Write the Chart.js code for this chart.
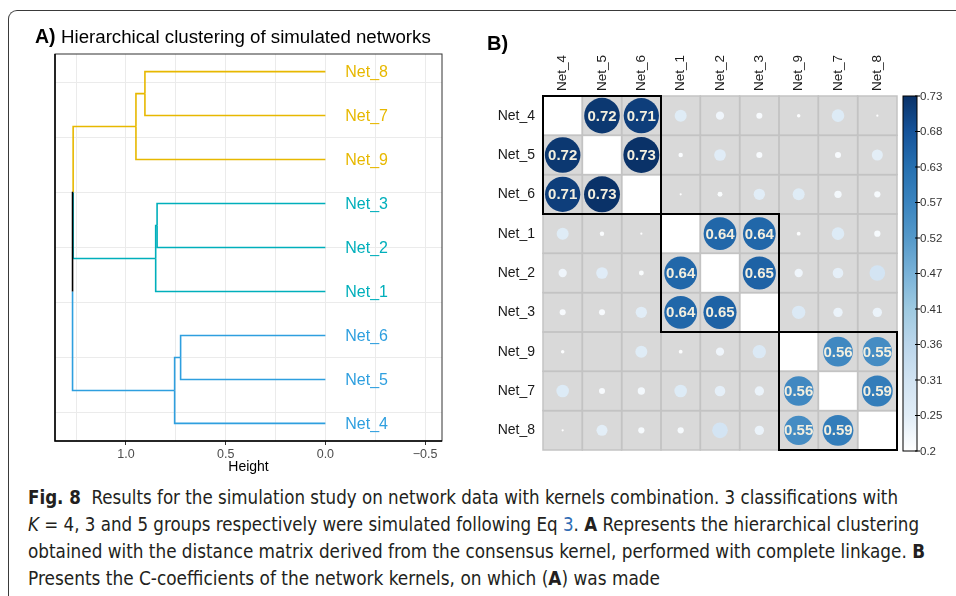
<!DOCTYPE html>
<html>
<head>
<meta charset="utf-8">
<script src="https://cdn.jsdelivr.net/npm/chart.js@4.4.1/dist/chart.umd.min.js"></script>
<style>
  html, body { margin: 0; padding: 0; background: #fff; }
  body { width: 956px; height: 596px; position: relative; overflow: hidden; }
  #frame { position: absolute; left: 8px; top: 10px; width: 1000px; height: 620px;
           border-top: 1px solid #3a3a3a; border-left: 1px solid #3a3a3a; border-top-left-radius: 9px; }
  #chartA { position: absolute; left: 0; top: 0; }
  #chartB { position: absolute; left: 470px; top: 0; }
  #caption { position: absolute; left: 28px; top: 484px; font-family: "Liberation Sans Narrow", "DejaVu Sans Condensed", sans-serif;
             font-size: 19.5px; line-height: 27px; color: #231f20; white-space: nowrap; }
  #caption div { transform-origin: left center; }
  #caption .lnk { color: #2f6db5; }
</style>
</head>
<body>
<div id="frame"></div>
<canvas id="chartA" width="470" height="480"></canvas>
<canvas id="chartB" width="486" height="480"></canvas>
<div id="caption">
  <div data-w="870"><b>Fig. 8</b>&nbsp; Results for the simulation study on network data with kernels combination. 3 classifications with</div>
  <div data-w="891"><i>K</i> = 4, 3 and 5 groups respectively were simulated following Eq <span class="lnk">3</span>. <b>A</b> Represents the hierarchical clustering</div>
  <div data-w="897">obtained with the distance matrix derived from the consensus kernel, performed with complete linkage. <b>B</b></div>
  <div data-w="632">Presents the C-coefficients of the network kernels, on which (<b>A</b>) was made</div>
</div>
<script>
// leaves, bottom to top in the dendrogram, same order as the matrix rows
var leaves = ['Net_4', 'Net_5', 'Net_6', 'Net_1', 'Net_2', 'Net_3', 'Net_9', 'Net_7', 'Net_8'];
var groups = [0, 0, 0, 1, 1, 1, 2, 2, 2];
var groupColors = ['#2E9FDF', '#00AFBB', '#E7B800'];

// merges of the complete linkage tree (m1..m8)
var mergeLeft   = ['Net_5', 'Net_4', 'Net_2', 'Net_1', 'Net_7', 'Net_9', 'm4', 'm2'];
var mergeRight  = ['Net_6', 'm1',    'Net_3', 'm3',    'Net_8', 'm5',    'm6', 'm7'];
var mergeHeight = [0.726,   0.756,   0.844,   0.851,   0.905,   0.950,   1.265, 1.268];

var heightGrid = [1.25, 1.0, 0.75, 0.5, 0.25, 0.0, -0.25, -0.5];
var heightMajor = [1.0, 0.5, 0.0, -0.5];
var heightLabels = ['1.0', '0.5', '0.0', '\u22120.5'];
var leafGrid = [1.25, 2.5, 3.75, 5, 6.25, 7.5, 8.75];

// C-coefficients, rows/cols in leaves order
var kernelC = [
  [null, 0.72, 0.71, 0.259, 0.228, 0.215, 0.205, 0.265, 0.202],
  [0.72, null, 0.73, 0.208, 0.256, 0.215, 0.200, 0.215, 0.250],
  [0.71, 0.73, null, 0.202, 0.210, 0.253, 0.259, 0.222, 0.216],
  [0.259, 0.208, 0.202, null, 0.64, 0.64, 0.206, 0.265, 0.216],
  [0.228, 0.256, 0.210, 0.64, null, 0.65, 0.228, 0.246, 0.300],
  [0.215, 0.215, 0.253, 0.64, 0.65, null, 0.273, 0.236, 0.236],
  [0.205, 0.200, 0.259, 0.206, 0.228, 0.273, null, 0.56, 0.55],
  [0.265, 0.215, 0.222, 0.265, 0.246, 0.236, 0.56, null, 0.59],
  [0.202, 0.250, 0.216, 0.216, 0.300, 0.236, 0.55, 0.59, null]
];
var colorLim = [0.2, 0.73];
var colorbarLabels = ['0.73', '0.68', '0.63', '0.57', '0.52', '0.47', '0.41', '0.36', '0.31', '0.25', '0.2'];
var blues = ['#FFFFFF', '#E1EDF7', '#D1E3F2', '#BBD6EB', '#9ECAE1', '#79B2D8', '#5599C9', '#3A84BF', '#2670B0', '#15539A', '#0A3268'];

var FONT = "'Liberation Sans', Arial, Helvetica, sans-serif";

// ---------- panel A : dendrogram ----------
var nodes = {};
leaves.forEach(function (n, i) { nodes[n] = { y: i + 1, h: 0, grp: groups[i] }; });
var edges = [];
mergeLeft.forEach(function (a, k) {
  var A = nodes[a], B = nodes[mergeRight[k]];
  var h = mergeHeight[k];
  var node = { y: (A.y + B.y) / 2, h: h, grp: A.grp === B.grp ? A.grp : -1 };
  [A, B].forEach(function (c) {
    edges.push({ grp: c.grp, pts: [{ x: h, y: node.y }, { x: h, y: c.y }, { x: c.h, y: c.y }] });
  });
  nodes['m' + (k + 1)] = node;
});
// black (mixed) branches underneath the coloured ones
edges.sort(function (a, b) { return (a.grp < 0 ? 0 : 1) - (b.grp < 0 ? 0 : 1); });

var dendroSets = edges.map(function (e) {
  return {
    data: e.pts, showLine: true, pointRadius: 0, borderWidth: 1.6, tension: 0,
    borderColor: e.grp < 0 ? '#000000' : groupColors[e.grp]
  };
});

var panelAText = {
  id: 'panelAText',
  afterDatasetsDraw: function (chart) {
    var ctx = chart.ctx, ca = chart.chartArea, xs = chart.scales.x, ys = chart.scales.y;
    ctx.save();
    // frame
    ctx.strokeStyle = '#333';
    ctx.lineWidth = 1;
    ctx.strokeRect(ca.left, ca.top, ca.right - ca.left, ca.bottom - ca.top);
    ctx.strokeStyle = '#000';
    ctx.lineWidth = 1.5;
    ctx.beginPath();
    ctx.moveTo(ca.left, ca.top); ctx.lineTo(ca.left, ca.bottom); ctx.lineTo(ca.right, ca.bottom);
    ctx.stroke();
    // leaf labels
    ctx.font = '16px ' + FONT;
    ctx.textAlign = 'left';
    ctx.textBaseline = 'middle';
    leaves.forEach(function (n, i) {
      ctx.fillStyle = groupColors[groups[i]];
      ctx.fillText(n, xs.getPixelForValue(-0.1), ys.getPixelForValue(i + 1) + 1);
    });
    // title
    ctx.fillStyle = '#000';
    ctx.font = 'bold 19.5px ' + FONT;
    ctx.fillText('A)', 35, 38);
    var w = ctx.measureText('A) ').width;
    ctx.font = '18.7px ' + FONT;
    ctx.fillText('Hierarchical clustering of simulated networks', 35 + w, 38);
    // axis title
    ctx.textAlign = 'center';
    ctx.font = '14px ' + FONT;
    ctx.fillText('Height', (ca.left + ca.right) / 2, 467);
    ctx.restore();
  }
};

new Chart(document.getElementById('chartA'), {
  type: 'scatter',
  data: { datasets: dendroSets },
  options: {
    responsive: false, animation: false, events: [],
    layout: { padding: { top: 54, right: 28, left: 0, bottom: 0 } },
    plugins: { legend: { display: false }, tooltip: { enabled: false } },
    scales: {
      x: {
        type: 'linear', reverse: true, min: -0.585, max: 1.356,
        afterBuildTicks: function (s) { s.ticks = heightGrid.map(function (v) { return { value: v }; }); },
        afterFit: function (s) { s.height = 39; },
        ticks: {
          autoSkip: false, maxRotation: 0, padding: 2, color: '#4D4D4D',
          font: { size: 12.5, family: FONT },
          callback: function (v) { var i = heightMajor.indexOf(v); return i >= 0 ? heightLabels[i] : ''; }
        },
        grid: {
          color: '#EBEBEB', lineWidth: 1, tickLength: 4,
          tickColor: function (c) { return c.tick && heightMajor.indexOf(c.tick.value) >= 0 ? '#333' : 'rgba(0,0,0,0)'; }
        },
        border: { display: false }
      },
      y: {
        type: 'linear', min: 0.6, max: 9.4,
        afterBuildTicks: function (s) { s.ticks = leafGrid.map(function (v) { return { value: v }; }); },
        afterFit: function (s) { s.width = 55; },
        ticks: { display: false },
        grid: { color: '#EBEBEB', drawTicks: false },
        border: { display: false }
      }
    }
  },
  plugins: [panelAText]
});

// ---------- panel B : C-coefficient matrix ----------
var padB = { top: 0, right: 59, left: 0, bottom: 30 };
var axisB = { top: 96, left: 73 };

function hexRgb(h) { return [parseInt(h.substr(1, 2), 16), parseInt(h.substr(3, 2), 16), parseInt(h.substr(5, 2), 16)]; }
function colorOf(v) {
  var t = Math.max(0, Math.min(1, (v - colorLim[0]) / (colorLim[1] - colorLim[0])));
  var p = t * (blues.length - 1), i = Math.min(Math.floor(p), blues.length - 2), f = p - i;
  var a = hexRgb(blues[i]), b = hexRgb(blues[i + 1]);
  return 'rgb(' + [0, 1, 2].map(function (k) { return Math.round(a[k] + (b[k] - a[k]) * f); }).join(',') + ')';
}

var cells = [];
kernelC.forEach(function (row, i) {
  row.forEach(function (v, j) { if (v !== null) cells.push({ x: j + 0.5, y: i + 0.5, v: v }); });
});
var centers = leaves.map(function (n, i) { return i + 0.5; });

var panelBDraw = {
  id: 'panelBDraw',
  beforeDatasetsDraw: function (chart) {
    var ctx = chart.ctx, xs = chart.scales.x, ys = chart.scales.y;
    ctx.save();
    for (var i = 0; i < leaves.length; i++) {
      for (var j = 0; j < leaves.length; j++) {
        var x0 = xs.getPixelForValue(j), x1 = xs.getPixelForValue(j + 1);
        var y0 = ys.getPixelForValue(i), y1 = ys.getPixelForValue(i + 1);
        ctx.fillStyle = i === j ? '#FFFFFF' : '#D9D9D9';
        ctx.fillRect(x0, y0, x1 - x0, y1 - y0);
      }
    }
    ctx.strokeStyle = '#C3C3C3';
    ctx.lineWidth = 1.5;
    for (var i2 = 0; i2 < leaves.length; i2++) {
      for (var j2 = 0; j2 < leaves.length; j2++) {
        var a0 = xs.getPixelForValue(j2), a1 = xs.getPixelForValue(j2 + 1);
        var b0 = ys.getPixelForValue(i2), b1 = ys.getPixelForValue(i2 + 1);
        ctx.strokeRect(a0, b0, a1 - a0, b1 - b0);
      }
    }
    ctx.restore();
  },
  afterDatasetsDraw: function (chart) {
    var ctx = chart.ctx, ca = chart.chartArea, xs = chart.scales.x, ys = chart.scales.y;
    ctx.save();
    // values inside the clusters
    ctx.fillStyle = '#F3EFDF';
    ctx.font = 'bold 15px ' + FONT;
    ctx.textAlign = 'center';
    ctx.textBaseline = 'middle';
    kernelC.forEach(function (row, i) {
      row.forEach(function (v, j) {
        if (v !== null && groups[i] === groups[j]) {
          ctx.fillText(v.toFixed(2), xs.getPixelForValue(j + 0.5), ys.getPixelForValue(i + 0.5) + 1);
        }
      });
    });
    // cluster boxes
    ctx.strokeStyle = '#000';
    ctx.lineWidth = 2;
    var start = 0;
    for (var k = 1; k <= groups.length; k++) {
      if (k === groups.length || groups[k] !== groups[start]) {
        var x0 = xs.getPixelForValue(start), x1 = xs.getPixelForValue(k);
        var y0 = ys.getPixelForValue(start), y1 = ys.getPixelForValue(k);
        ctx.strokeRect(x0, y0, x1 - x0, y1 - y0);
        start = k;
      }
    }
    // colour bar
    var bx = ca.right + 6, bw = 14, by0 = ca.top, by1 = ca.bottom + 1;
    var g = ctx.createLinearGradient(0, by1, 0, by0);
    blues.forEach(function (c, i) { g.addColorStop(i / (blues.length - 1), c); });
    ctx.fillStyle = g;
    ctx.fillRect(bx, by0, bw, by1 - by0);
    ctx.strokeStyle = '#000';
    ctx.lineWidth = 1;
    ctx.strokeRect(bx, by0, bw, by1 - by0);
    ctx.font = '11.5px ' + FONT;
    ctx.textAlign = 'left';
    ctx.fillStyle = '#333';
    colorbarLabels.forEach(function (lab, i) {
      var y = by0 + (by1 - by0) * i / (colorbarLabels.length - 1);
      ctx.beginPath();
      ctx.moveTo(bx + bw - 2, y); ctx.lineTo(bx + bw + 3, y);
      ctx.stroke();
      ctx.fillText(lab, bx + bw + 3, y + 0.5);
    });
    // panel tag
    ctx.fillStyle = '#000';
    ctx.font = 'bold 20px ' + FONT;
    ctx.fillText('B)', 17, 44);
    ctx.restore();
  }
};

new Chart(document.getElementById('chartB'), {
  type: 'bubble',
  data: {
    datasets: [{
      data: cells,
      borderWidth: 0,
      backgroundColor: function (c) { return c.raw ? colorOf(c.raw.v) : '#fff'; },
      // radius is resolved while parsing, before the layout exists, so the cell
      // size comes from the canvas size and the fixed axis/padding sizes
      radius: function (c) {
        if (!c.raw) return 0;
        var cell = (c.chart.width - axisB.left - padB.left - padB.right) / leaves.length;
        var t = Math.max(0, (c.raw.v - colorLim[0]) / (colorLim[1] - colorLim[0]));
        return 0.457 * cell * Math.sqrt(t);
      }
    }]
  },
  options: {
    responsive: false, animation: false, events: [],
    layout: { padding: padB },
    plugins: { legend: { display: false }, tooltip: { enabled: false } },
    scales: {
      x: {
        type: 'linear', position: 'top', min: 0, max: leaves.length,
        afterBuildTicks: function (s) { s.ticks = centers.map(function (v) { return { value: v }; }); },
        afterFit: function (s) { s.height = axisB.top; },
        ticks: {
          autoSkip: false, minRotation: 90, maxRotation: 90, padding: 5, labelOffset: 16, color: '#1A1A1A',
          font: { size: 13.5, family: FONT },
          callback: function (v) { return leaves[Math.floor(v)]; }
        },
        grid: { display: false, drawTicks: false },
        border: { display: false }
      },
      y: {
        type: 'linear', reverse: true, min: 0, max: leaves.length,
        afterBuildTicks: function (s) { s.ticks = centers.map(function (v) { return { value: v }; }); },
        afterFit: function (s) { s.width = axisB.left; },
        ticks: {
          autoSkip: false, padding: 8, color: '#1A1A1A',
          font: { size: 14, family: FONT },
          callback: function (v) { return leaves[Math.floor(v)]; }
        },
        grid: { display: false, drawTicks: false },
        border: { display: false }
      }
    }
  },
  plugins: [panelBDraw]
});

// fit caption lines to the widths of the printed figure
Array.prototype.forEach.call(document.querySelectorAll('#caption div'), function (d) {
  d.style.display = 'inline-block';
  var w = d.getBoundingClientRect().width;
  d.style.display = 'block';
  d.style.width = w + 'px';
  d.style.transform = 'scaleX(' + (parseFloat(d.getAttribute('data-w')) / w) + ')';
});
</script>
</body>
</html>
